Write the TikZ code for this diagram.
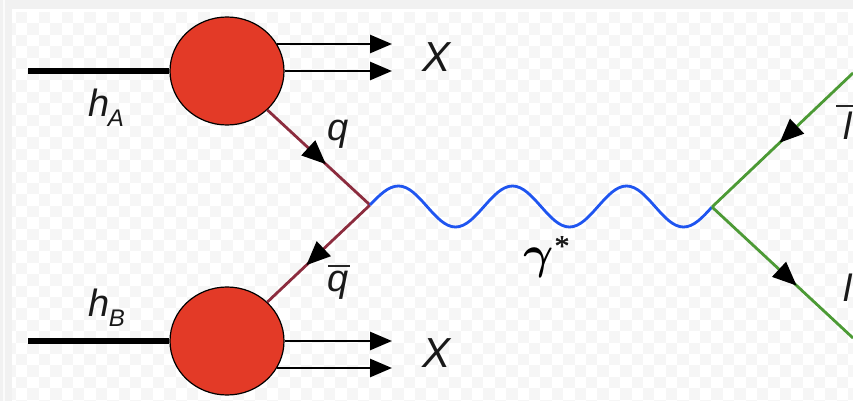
\documentclass[tikz,border=0pt]{standalone}
\usepackage{fontspec}
\setmainfont{Liberation Sans}
\newfontfamily\gammafont[FakeBold=1.2]{Liberation Serif}
\font\gammabold=cmmib10 at 46pt
\usetikzlibrary{arrows.meta,decorations.markings,calc,shapes.geometric}
\definecolor{blobred}{HTML}{E33A27}
\definecolor{quarkred}{HTML}{8C2C3E}
\definecolor{leptongreen}{HTML}{4C9A35}
\definecolor{photonblue}{HTML}{1F55F0}
\definecolor{chk}{HTML}{F6F6F6}
\definecolor{strip}{HTML}{F1F1F1}
\tikzset{
  x=1pt,y=-1pt,
  blob/.style={draw=black,line width=1.2pt,fill=blobred,ellipse,minimum width=114pt,minimum height=108pt,inner sep=0pt},
  beam/.style={line width=5.5pt,line cap=butt},
  outgo/.style={line width=2.6pt,-{Triangle[length=22pt,width=18pt,color=black]}},
  midtip/.style={postaction={decorate},decoration={markings,mark=at position #1 with {\arrow{Triangle[length=24pt,width=20pt,color=black,fill=black]}}}},
  quark/.style={draw=quarkred,line width=2.8pt},
  lepton/.style={draw=leptongreen,line width=2.8pt},
  photon/.style={draw=photonblue,line width=2.8pt},
  lab/.style={inner sep=0pt,text=black!90,font=\fontsize{38}{38}\selectfont\itshape},
}
\begin{document}
\begin{tikzpicture}
\useasboundingbox (0,0) rectangle (853,401);
\fill[white] (0,0) rectangle (853,401);
\fill[strip] (0,0) rectangle (853,9);
\fill[strip] (0,0) rectangle (12,401);
\fill[white!70!strip] (3,0) rectangle (5,401);
\begin{scope}
\clip (12,12) rectangle (853,401);
\foreach \i in {0,...,74}{
  \foreach \j in {0,...,34}{
    \pgfmathparse{int(mod(\i+\j,2))}
    \ifnum\pgfmathresult=1
      \fill[chk] ({4.6+11.4*\i},{12+11.4*\j}) rectangle ++(11.4,11.4);
    \fi
  }
}
\end{scope}
\node[blob] (A) at (227,71) {};
\node[blob] (B) at (227,341) {};
\coordinate (v1) at (370,205);
\coordinate (v2) at (712,207);
\coordinate (ha) at (28,71);
\coordinate (hb) at (28,341);
\coordinate (xa1) at (392,44);
\coordinate (xa2) at (392,71);
\coordinate (xb1) at (392,341);
\coordinate (xb2) at (392,368);
\coordinate (lbar) at (853,73);
\coordinate (lep) at (853,338);
\coordinate (astart1) at (277,44);
\coordinate (bstart2) at (277,368);
\draw[beam] (ha) -- (A.west);
\draw[beam] (hb) -- (B.west);
\draw[outgo] (astart1) -- (xa1);
\draw[outgo] (A.east) -- (xa2);
\draw[outgo] (B.east) -- (xb1);
\draw[outgo] (bstart2) -- (xb2);
\draw[quark,midtip=0.57] (A.-44) -- (v1);
\draw[quark,midtip=0.62] (v1) -- (B.44);
\draw[photon] (v1) sin ++(28.5,-19) cos ++(28.5,20.5) sin ++(28.5,20.5) cos ++(28.5,-20.5)
  sin ++(28.5,-20.5) cos ++(28.5,20.5) sin ++(28.5,20.5) cos ++(28.5,-20.5)
  sin ++(28.5,-20.5) cos ++(28.5,20.5) sin ++(28.5,20.5) cos ++(28.5,-20);
\draw[lepton,midtip=0.52] (lbar) -- (v2);
\draw[lepton,midtip=0.60] (v2) -- (lep);
\node[lab] (hA) at (99,103) {h};
\node[lab,font=\fontsize{24}{24}\selectfont\itshape] (hAs) at (116,118) {A};
\node[lab] (hB) at (99,303) {h};
\node[lab,font=\fontsize{24}{24}\selectfont\itshape] (hBs) at (117,318) {B};
\node[lab,font=\fontsize{42}{42}\selectfont\itshape] (Xa) at (437,57) {X};
\node[lab,font=\fontsize{42}{42}\selectfont\itshape] (Xb) at (437,353) {X};
\node[lab] (q) at (338,134) {q};
\node[lab] (qb) at (338,285) {q};
\draw[line width=2pt,black!85] (328,266) -- (350,266);
\node[inner sep=0pt] (g) at (537,263) {\gammabold\char13};
\node[lab,font=\fontsize{30}{30}\gammafont\selectfont] (st) at (562,246) {*};
\node[lab] (lb) at (848,126) {l};
\draw[line width=2pt,black!85] (836,106) -- (853,106);
\node[lab] (l) at (848,288) {l};
\end{tikzpicture}
\end{document}
